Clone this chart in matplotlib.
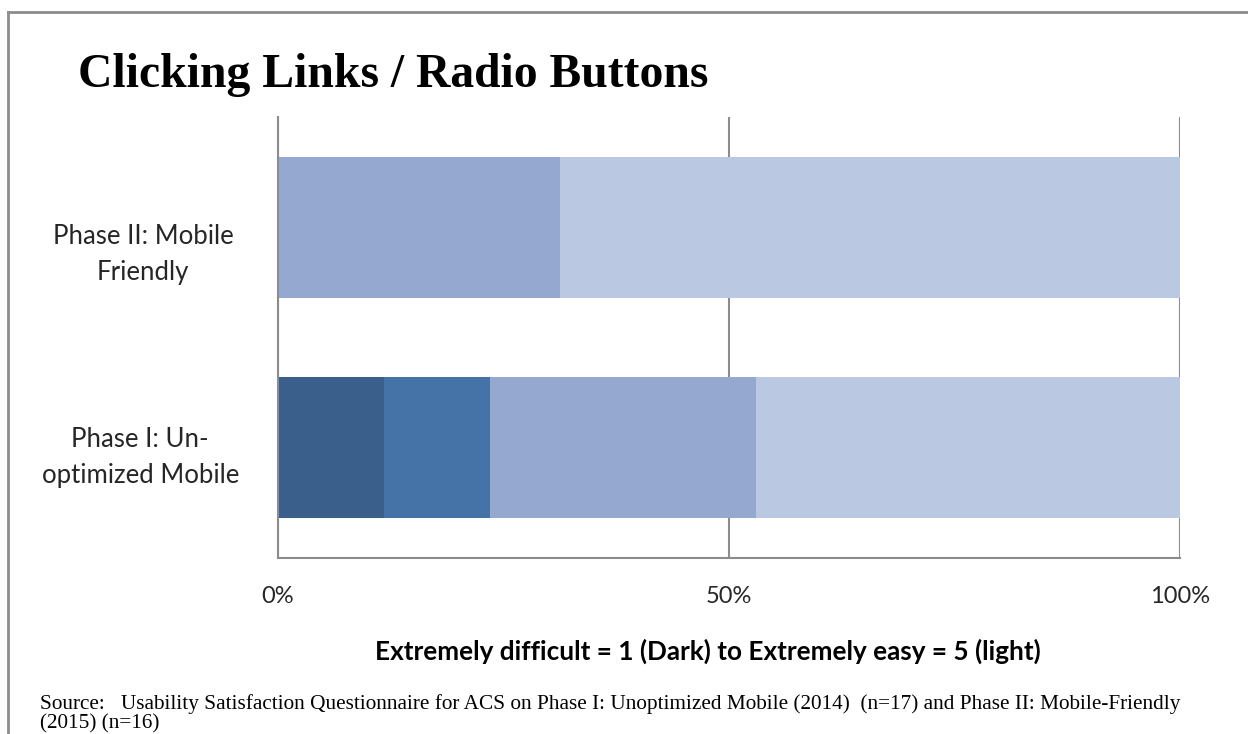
import matplotlib.pyplot as plt
from matplotlib.lines import Line2D
from matplotlib.transforms import ScaledTranslation
import numpy as np

# Data: share of respondents per rating (1 = extremely difficult ... 5 = extremely easy)
categories = ['Phase I: Un-\noptimized Mobile', 'Phase II: Mobile\nFriendly']
ratings = ['1', '2', '3', '4', '5']
counts_phase1 = [2, 2, 0, 5, 8]     # n=17
counts_phase2 = [0, 0, 0, 5, 11]    # n=16
colors = ['#3A5F8B', '#4573A7', '#6F8FC4', '#95A9D0', '#BBC8E1']
xticks = [0, 50, 100]
xtick_labels = ['0%', '50%', '100%']

shares = np.array([counts_phase1, counts_phase2], dtype=float)
shares = shares / shares.sum(axis=1, keepdims=True) * 100

fig = plt.figure(figsize=(12.48, 7.34), dpi=100)
ax = fig.add_axes([278/1248, 1-558/734, 902/1248, 441/734])

y = np.arange(len(categories))
left = np.zeros(len(categories))
for i, r in enumerate(ratings):
    ax.barh(y, shares[:, i], left=left, height=0.64, color=colors[i], zorder=2)
    left += shares[:, i]

ax.set_xlim(0, 100)
ax.set_ylim(-0.5, 1.5)
ax.set_xticks(xticks)
ax.set_xticklabels(xtick_labels, fontsize=17, family='Lato', color='#262626')
ax.set_yticks(y)
ax.set_yticklabels(categories, fontsize=18.5, family='Lato', color='#262626',
                   ha='center', linespacing=1.55)
ax.tick_params(axis='y', length=0, pad=97)
ax.tick_params(axis='x', length=0, pad=20)
# Excel drops the upper label a bit below its bar centre
ylabs = ax.get_yticklabels()
ylabs[0].set_transform(ylabs[0].get_transform() + ScaledTranslation(-0.03, -0.02, fig.dpi_scale_trans))
ylabs[1].set_transform(ylabs[1].get_transform() + ScaledTranslation(0, -0.19, fig.dpi_scale_trans))
ax.xaxis.grid(True, color='#8C8C8C', linewidth=1.5, zorder=0)
for side in ['top', 'right']:
    ax.spines[side].set_visible(False)
for side in ['left', 'bottom']:
    ax.spines[side].set_color('#8C8C8C')
    ax.spines[side].set_linewidth(1.5)

fig.text(78/1248, 1-75/734, 'Clicking Links / Radio Buttons', fontsize=34.3,
         family='Liberation Serif', weight='bold', va='center', ha='left')
fig.text(708/1248, 1-651/734, 'Extremely difficult = 1 (Dark) to Extremely easy = 5 (light)',
         fontsize=18.8, family='Lato', weight='bold', ha='center', va='center')
fig.text(40/1248, 1-694/734,
         'Source:   Usability Satisfaction Questionnaire for ACS on Phase I: Unoptimized Mobile (2014)  (n=17) '
         'and Phase II: Mobile-Friendly\n(2015) (n=16)',
         fontsize=15.3, family='Liberation Serif', ha='left', va='top', linespacing=1.05)

# outer frame
fig.add_artist(Line2D([8/1248, 1], [1-12/734, 1-12/734], transform=fig.transFigure,
                      color='#8C8C8C', linewidth=2))
fig.add_artist(Line2D([8/1248, 8/1248], [0, 1-12/734], transform=fig.transFigure,
                      color='#8C8C8C', linewidth=2))

fig.savefig('out.png', dpi=100)
